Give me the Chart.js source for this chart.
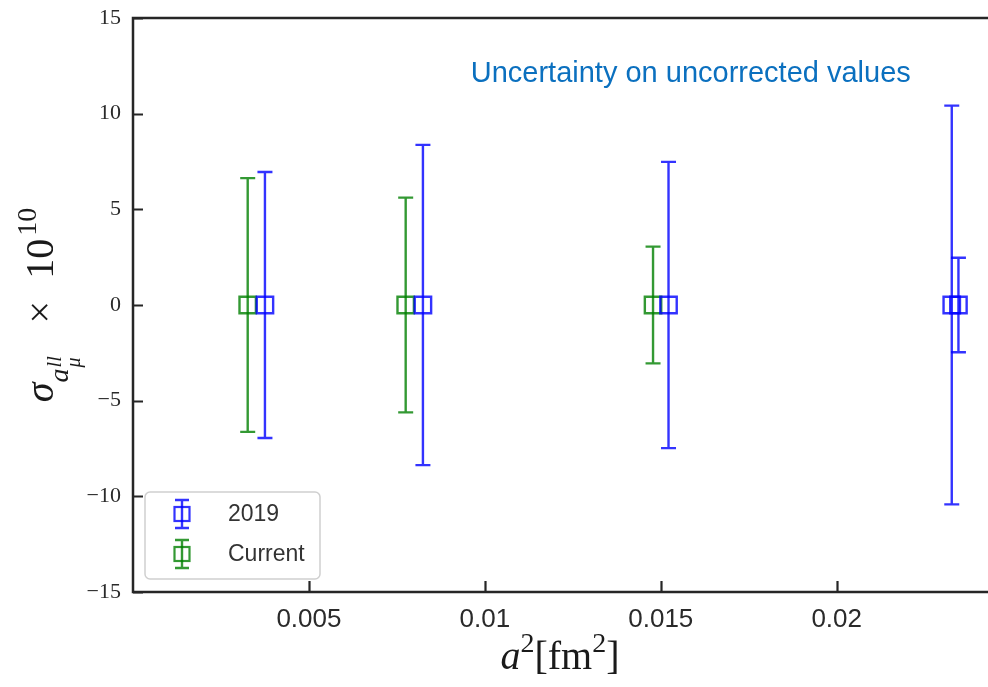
<!DOCTYPE html>
<html>
<head>
<meta charset="utf-8">
<script src="https://cdn.jsdelivr.net/npm/chart.js@4.4.1/dist/chart.umd.min.js"></script>
<style>
html,body{margin:0;padding:0;background:#fff;}
#wrap{position:relative;width:988px;height:687px;overflow:hidden;}
#wrap canvas{position:absolute;left:0;top:0;}
.serif{font-family:"Liberation Serif","DejaVu Serif",serif;color:#1a1a1a;font-size:40px;line-height:40px;white-space:nowrap;}
.it{font-style:italic;}
#xtitle{position:absolute;left:400px;width:320px;top:636px;height:40px;text-align:center;}
#ytitle{position:absolute;width:300px;height:40px;left:-110.5px;top:285px;text-align:center;transform:rotate(-90deg);transform-origin:50% 50%;}
.sup{font-size:0.7em;position:relative;top:-0.62em;line-height:0;}
.sub1{font-size:0.7em;position:relative;top:0.55em;line-height:0;}
.stack{display:inline-block;position:relative;width:17px;height:1px;}
.stack .s{position:absolute;left:1px;font-size:20px;line-height:20px;}
.op{margin:0 22px 0 28px;}
.supn{font-size:0.7em;position:relative;top:-0.62em;line-height:0;margin-left:3px;}
</style>
</head>
<body>
<div id="wrap">
<canvas id="c" width="988" height="687"></canvas>
<div id="xtitle" class="serif"><span class="it">a</span><span class="sup">2</span>[fm<span class="sup">2</span>]</div>
<div id="ytitle" class="serif"><span class="it">σ</span><span class="sub1"><span class="it">a</span><span class="stack"><span class="s it" style="bottom:4px;">ll</span><span class="s it" style="top:-4px;">μ</span></span></span><span class="op">×</span>10<span class="supn">10</span></div>
</div>
<script>
// ---- data ----
const seriesNames = ['2019', 'Current'];
const a2_2019 = [0.00375, 0.00824, 0.01522, 0.02327, 0.02346];
const val_2019 = [0, 0, 0, 0, 0];
const err_2019 = [6.95, 8.37, 7.48, 10.42, 2.47];
const a2_current = [0.00326, 0.00775, 0.01478];
const val_current = [0, 0, 0];
const err_current = [6.63, 5.61, 3.05];

const xTickValues = [0.005, 0.01, 0.015, 0.02];
const xTickLabels = ['0.005', '0.01', '0.015', '0.02'];
const yTickValues = [-15, -10, -5, 0, 5, 10, 15];
const yTickLabels = ['\u221215', '\u221210', '\u22125', '0', '5', '10', '15'];
const annotationText = 'Uncertainty on uncorrected values';

// ---- styles ----
const BLUE = 'rgba(0,0,255,0.8)';
const GREEN = 'rgba(0,128,0,0.8)';
const AXIS = '#262626';

function pts(xs, ys, es) { return xs.map((x, i) => ({ x: x, y: ys[i], err: es[i] })); }

const errorBarPlugin = {
  id: 'errbars',
  beforeDatasetsDraw(chart) {
    const ctx = chart.ctx, xs = chart.scales.x, ys = chart.scales.y;
    chart.data.datasets.forEach(ds => {
      ctx.save();
      ctx.strokeStyle = ds.borderColor;
      ctx.lineWidth = 2.4;
      ds.data.forEach(p => {
        const px = xs.getPixelForValue(p.x);
        const top = ys.getPixelForValue(p.y + p.err);
        const bot = ys.getPixelForValue(p.y - p.err);
        ctx.beginPath();
        ctx.moveTo(px, top); ctx.lineTo(px, bot);
        ctx.moveTo(px - 7.5, top); ctx.lineTo(px + 7.5, top);
        ctx.moveTo(px - 7.5, bot); ctx.lineTo(px + 7.5, bot);
        ctx.stroke();
      });
      ctx.restore();
    });
  }
};

const framePlugin = {
  id: 'frame',
  afterDraw(chart) {
    const ctx = chart.ctx, a = chart.chartArea, xs = chart.scales.x, ys = chart.scales.y;
    ctx.save();
    // spines
    ctx.strokeStyle = AXIS;
    ctx.lineWidth = 2.5;
    ctx.beginPath();
    ctx.moveTo(a.right + 2, a.top); ctx.lineTo(a.left, a.top);
    ctx.lineTo(a.left, a.bottom); ctx.lineTo(a.right + 2, a.bottom);
    ctx.stroke();
    // inward ticks
    ctx.lineWidth = 2.2;
    ctx.beginPath();
    xs.ticks.forEach(t => {
      const px = Math.round(xs.getPixelForValue(t.value)) + 0.5;
      ctx.moveTo(px, a.bottom); ctx.lineTo(px, a.bottom - 11);
    });
    ys.ticks.forEach(t => {
      const py = Math.round(ys.getPixelForValue(t.value)) + 0.5;
      ctx.moveTo(a.left, py); ctx.lineTo(a.left + 10, py);
    });
    ctx.stroke();

    // annotation text
    ctx.fillStyle = '#0b70bf';
    ctx.font = '29px "Liberation Sans", Arial, sans-serif';
    ctx.textAlign = 'left';
    ctx.textBaseline = 'alphabetic';
    ctx.fillText(annotationText, a.left + 0.395 * (a.right - a.left), a.top + 0.112 * (a.bottom - a.top));

    // legend
    const lx = 145, ly = 492, lw = 175, lh = 87;
    ctx.fillStyle = 'rgba(255,255,255,0.85)';
    ctx.strokeStyle = '#cfcfcf';
    ctx.lineWidth = 1.5;
    ctx.beginPath();
    ctx.roundRect(lx, ly, lw, lh, 5);
    ctx.fill(); ctx.stroke();
    chart.data.datasets.forEach((ds, i) => {
      const cy = ly + 22 + i * 40, cx = lx + 37;
      ctx.strokeStyle = ds.borderColor;
      ctx.lineWidth = 2.4;
      ctx.beginPath();
      ctx.moveTo(cx, cy - 14); ctx.lineTo(cx, cy + 14);
      ctx.moveTo(cx - 7, cy - 14); ctx.lineTo(cx + 7, cy - 14);
      ctx.moveTo(cx - 7, cy + 14); ctx.lineTo(cx + 7, cy + 14);
      ctx.stroke();
      ctx.lineWidth = 2.2;
      ctx.strokeRect(cx - 7.5, cy - 7, 15, 14);
      ctx.fillStyle = '#333';
      ctx.font = '23px "Liberation Sans", Arial, sans-serif';
      ctx.textBaseline = 'middle';
      ctx.fillText(ds.label, lx + 83, cy + 1);
    });
    ctx.restore();
  }
};

new Chart(document.getElementById('c'), {
  type: 'scatter',
  data: {
    datasets: [
      { label: seriesNames[0], data: pts(a2_2019, val_2019, err_2019), borderColor: BLUE, backgroundColor: 'rgba(0,0,0,0)',
        pointStyle: 'rect', pointRadius: 11.6, pointBorderWidth: 2.4, pointHoverRadius: 11.6, clip: false },
      { label: seriesNames[1], data: pts(a2_current, val_current, err_current), borderColor: GREEN, backgroundColor: 'rgba(0,0,0,0)',
        pointStyle: 'rect', pointRadius: 11.6, pointBorderWidth: 2.4, pointHoverRadius: 11.6, clip: false }
    ]
  },
  options: {
    responsive: false,
    animation: false,
    devicePixelRatio: 1,
    layout: { autoPadding: false, padding: { top: 18, right: 0, left: 0, bottom: 0 } },
    plugins: { legend: { display: false }, tooltip: { enabled: false } },
    scales: {
      x: {
        type: 'linear', min: 0, max: 0.0243,
        grid: { display: false }, border: { display: false },
        afterBuildTicks: s => { s.ticks = xTickValues.map(v => ({ value: v })); },
        afterFit: s => { s.height = 95; s.paddingLeft = 0; s.paddingRight = 0; },
        ticks: {
          autoSkip: false, maxRotation: 0, padding: 4, color: '#2a2a2a',
          font: { family: '"Liberation Sans", Arial, sans-serif', size: 26 },
          callback: v => xTickLabels[xTickValues.findIndex(t => Math.abs(t - v) < 1e-9)]
        }
      },
      y: {
        type: 'linear', min: -15, max: 15,
        grid: { display: false }, border: { display: false },
        afterBuildTicks: s => { s.ticks = yTickValues.map(v => ({ value: v })); },
        afterFit: s => { s.width = 133; s.paddingTop = 0; s.paddingBottom = 0; },
        ticks: {
          autoSkip: false, padding: 4, color: '#2a2a2a',
          font: { family: '"Liberation Serif", "DejaVu Serif", serif', size: 22 },
          callback: v => yTickLabels[yTickValues.indexOf(v)]
        }
      }
    }
  },
  plugins: [errorBarPlugin, framePlugin]
});
</script>
</body>
</html>
